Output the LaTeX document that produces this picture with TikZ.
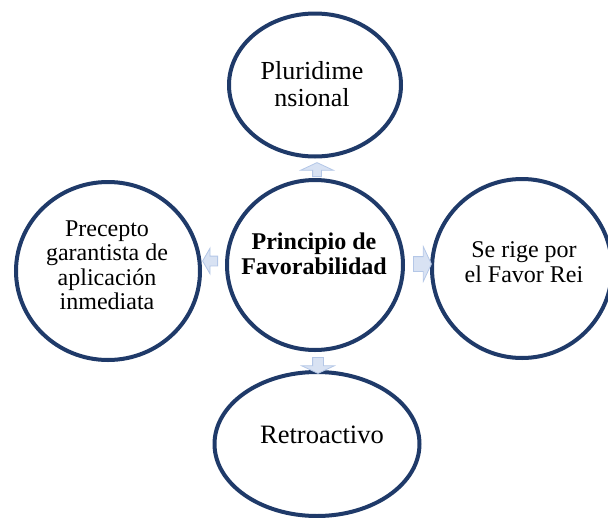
\documentclass[tikz,border=0pt]{standalone}
\usepackage{fontspec}
\setmainfont{Liberation Serif}
\usetikzlibrary{shapes.geometric,shapes.arrows,positioning,calc}
\definecolor{ringblue}{RGB}{31,58,105}
\definecolor{arrowfill}{RGB}{216,226,243}
\definecolor{arrowedge}{RGB}{180,199,231}

\begin{document}
\begin{tikzpicture}[x=1pt,y=-1pt,
  ring/.style={ellipse,draw=ringblue,line width=4pt,fill=white,inner sep=0pt},
  txt/.style={align=center,inner sep=0pt,font=\fontsize{24}{24.5}\selectfont},
  blockarrow/.style={single arrow,draw=arrowedge,fill=arrowfill,line width=0.8pt,anchor=tail,
    inner xsep=0pt,minimum width=0pt,single arrow tip angle=130}]
\useasboundingbox (0,0) rectangle (608,517);

\node[ring,minimum width=172pt,minimum height=143pt] (pluri) at (315,85) {};
\node[ring,minimum width=176pt,minimum height=170pt] (fav) at (315,265) {};
\node[ring,minimum width=184pt,minimum height=178pt] (precepto) at (108,271) {};
\node[ring,minimum width=180pt,minimum height=179pt] (rei) at (522,268.5) {};
\node[ring,minimum width=205pt,minimum height=144pt] (retro) at (317,444) {};

\node[txt,font=\fontsize{26}{27.5}\selectfont] (pluritxt) at (312,84) {Pluridime\\nsional};
\node[txt,font=\fontsize{24}{25}\selectfont\bfseries] (favtxt) at (314,253.5) {Principio de\\Favorabilidad};
\node[txt] (preceptotxt) at (107,265.5) {Precepto\\garantista de\\aplicación\\inmediata};
\node[txt,font=\fontsize{24}{25}\selectfont] (reitxt) at (524,262.5) {Se rige por\\el Favor Rei};
\node[txt,font=\fontsize{26.5}{27.5}\selectfont] (retrotxt) at (322,434.5) {Retroactivo};

\node[blockarrow,rotate=90,minimum height=14pt,inner ysep=4pt,single arrow head extend=12pt] (a1) at (317,177) {};
\node[blockarrow,rotate=180,minimum height=15pt,inner ysep=4.5pt,single arrow head extend=8pt,single arrow tip angle=120] (a2) at (218,261) {};
\node[blockarrow,minimum height=18pt,inner ysep=7pt,single arrow head extend=10pt] (a3) at (413,264) {};
\node[blockarrow,rotate=-90,minimum height=16pt,inner ysep=5pt,single arrow head extend=11pt] (a4) at (318,357) {};

\end{tikzpicture}
\end{document}
